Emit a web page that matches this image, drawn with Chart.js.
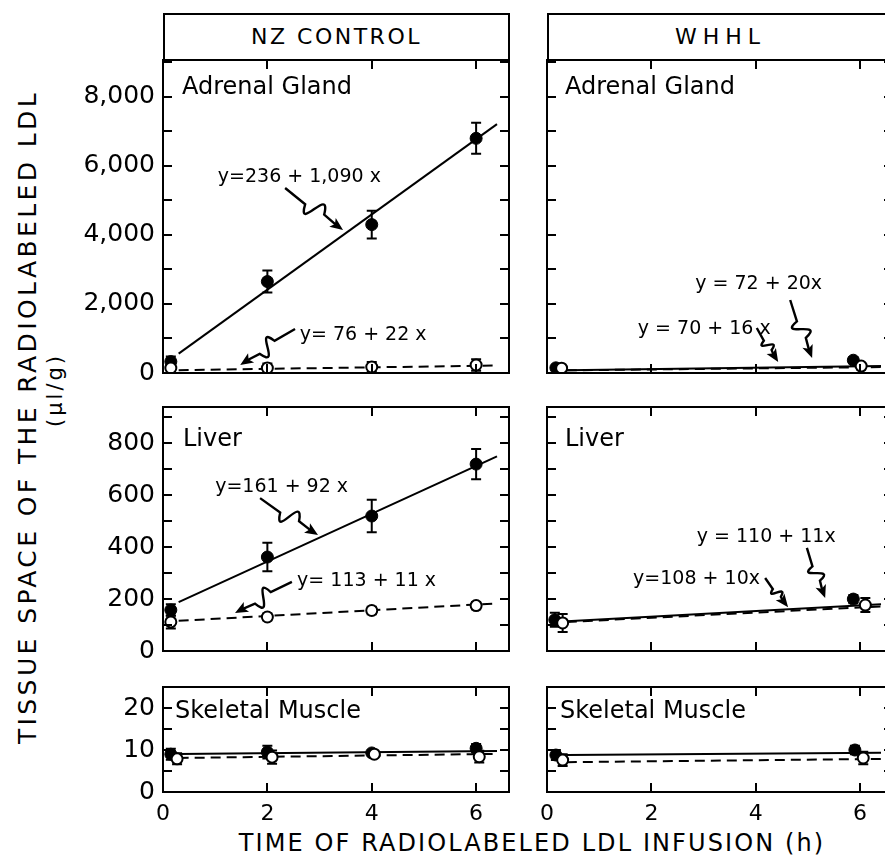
<!DOCTYPE html>
<html><head><meta charset="utf-8">
<script src="https://cdn.jsdelivr.net/npm/chart.js@4.4.1/dist/chart.umd.min.js"></script>
<style>
html,body{margin:0;padding:0;background:#fff;}
body{width:885px;height:856px;overflow:hidden;position:relative;font-family:"DejaVu Sans",sans-serif;color:#000;}
canvas{position:absolute;}
.hdr{position:absolute;box-sizing:border-box;border:2px solid #000;height:48px;top:13px;line-height:44px;text-align:center;font-size:22px;}
.ytitle{position:absolute;width:760px;height:32px;line-height:32px;text-align:center;transform:rotate(-90deg);white-space:nowrap;}
</style>
</head>
<body>
<div class="hdr" style="left:163px;width:347px;letter-spacing:2.5px;">NZ CONTROL</div>
<div class="hdr" style="left:547px;width:347px;letter-spacing:6px;">WHHL</div>
<div class="ytitle" style="left:-352px;top:401px;font-size:25px;letter-spacing:3.4px;">TISSUE SPACE OF THE RADIOLABELED LDL</div>
<div class="ytitle" style="left:-325px;top:374px;font-size:21px;letter-spacing:3px;">(μl/g)</div>
<div style="position:absolute;left:182px;width:700px;top:828px;line-height:30px;text-align:center;font-size:24px;letter-spacing:2.1px;white-space:nowrap;">TIME OF RADIOLABELED LDL INFUSION (h)</div>

<canvas id="c1" width="520" height="361" style="left:0;top:36px"></canvas>
<canvas id="c2" width="366" height="361" style="left:537px;top:36px"></canvas>
<canvas id="c3" width="520" height="292" style="left:0;top:383px"></canvas>
<canvas id="c4" width="366" height="292" style="left:537px;top:383px"></canvas>
<canvas id="c5" width="520" height="165" style="left:0;top:663px"></canvas>
<canvas id="c6" width="374" height="165" style="left:529px;top:663px"></canvas>

<script>
// ---------- DATA ----------
const timeTicks = [0, 2, 4, 6];
const adrenalYLabels = [0, 2000, 4000, 6000, 8000];
const liverYLabels = [0, 200, 400, 600, 800];
const muscleYLabels = [0, 10, 20];
const panelNames = ['Adrenal Gland', 'Liver', 'Skeletal Muscle'];
const groupNames = ['NZ CONTROL', 'WHHL'];

// NZ CONTROL — Adrenal Gland (filled = solid line, open = dashed line)
const nzAdrenalFilledX = [0.15, 2, 4, 6];
const nzAdrenalFilledY = [330, 2650, 4300, 6800];
const nzAdrenalFilledErr = [150, 320, 400, 450];
const nzAdrenalOpenX = [0.15, 2, 4, 6];
const nzAdrenalOpenY = [145, 145, 174, 232];
const nzAdrenalOpenErr = [100, 130, 145, 170];
const nzAdrenalFit = [[236, 1090], [76, 22]];
const nzAdrenalEq = ['y=236 + 1,090 x', 'y= 76 + 22 x'];

// NZ CONTROL — Liver
const nzLiverFilledX = [0.15, 2, 4, 6];
const nzLiverFilledY = [158, 362, 520, 720];
const nzLiverFilledErr = [22, 55, 63, 58];
const nzLiverOpenX = [0.15, 2, 4, 6];
const nzLiverOpenY = [112, 131, 156, 175];
const nzLiverOpenErr = [25, 13, 14, 14];
const nzLiverFit = [[161, 92], [113, 11]];
const nzLiverEq = ['y=161 + 92 x', 'y= 113 + 11 x'];

// NZ CONTROL — Skeletal Muscle
const nzMuscleFilledX = [0.15, 2, 4, 6];
const nzMuscleFilledY = [9.0, 9.5, 9.3, 10.4];
const nzMuscleFilledErr = [1.3, 1.5, 0.6, 1.0];
const nzMuscleOpenX = [0.27, 2.09, 4.05, 6.06];
const nzMuscleOpenY = [7.9, 8.3, 9.0, 8.4];
const nzMuscleOpenErr = [1.3, 1.6, 0.6, 1.4];
const nzMuscleFit = [[9.0, 0.12], [8.05, 0.16]];

// WHHL — Adrenal Gland
const whhlAdrenalFilledX = [0.17, 5.87];
const whhlAdrenalFilledY = [150, 370];
const whhlAdrenalFilledErr = [60, 90];
const whhlAdrenalOpenX = [0.28, 6.02];
const whhlAdrenalOpenY = [140, 200];
const whhlAdrenalOpenErr = [60, 90];
const whhlAdrenalFit = [[72, 20], [70, 16]];
const whhlAdrenalEq = ['y = 72 + 20x', 'y = 70 + 16 x'];

// WHHL — Liver
const whhlLiverFilledX = [0.15, 5.87];
const whhlLiverFilledY = [120, 200];
const whhlLiverFilledErr = [27, 16];
const whhlLiverOpenX = [0.3, 6.1];
const whhlLiverOpenY = [108, 177];
const whhlLiverOpenErr = [35, 27];
const whhlLiverFit = [[110, 11], [108, 10]];
const whhlLiverEq = ['y = 110 + 11x', 'y=108 + 10x'];

// WHHL — Skeletal Muscle
const whhlMuscleFilledX = [0.17, 5.9];
const whhlMuscleFilledY = [8.8, 10.0];
const whhlMuscleFilledErr = [1.2, 1.0];
const whhlMuscleOpenX = [0.3, 6.06];
const whhlMuscleOpenY = [7.6, 8.1];
const whhlMuscleOpenErr = [1.4, 1.5];
const whhlMuscleFit = [[8.75, 0.09], [7.05, 0.13]];

// x-extent of drawn regression lines
const fitRangeNZ = [0.3, 6.4];
const fitRangeWHHL = [0.38, 6.4];

// ---------- HELPERS ----------
const FONT = 'DejaVu Sans';
const X_MAX = 6.63;
const pts = (xs, ys) => xs.map((v, i) => ({x: v, y: ys[i]}));
const fitLine = (coef, range) => range.map(v => ({x: v, y: coef[0] + coef[1] * v}));

function squiggle(ctx, x0, y0, x1, y1) {
  const dx = x1 - x0, dy = y1 - y0, L = Math.hypot(dx, dy);
  const ux = dx / L, uy = dy / L, nx = -uy, ny = ux;
  const P = (t, k) => [x0 + ux * L * t + nx * L * k, y0 + uy * L * t + ny * L * k];
  ctx.beginPath();
  ctx.moveTo(x0, y0);
  ctx.lineTo(...P(0.36, 0.02));
  ctx.bezierCurveTo(...P(0.5, 0.42), ...P(0.5, -0.42), ...P(0.66, -0.02));
  ctx.lineTo(x1 - ux * 9, y1 - uy * 9);
  ctx.stroke();
  ctx.beginPath();
  ctx.moveTo(x1, y1);
  ctx.lineTo(x1 - ux * 13 + nx * 5.5, y1 - uy * 13 + ny * 5.5);
  ctx.lineTo(x1 - ux * 10, y1 - uy * 10);
  ctx.lineTo(x1 - ux * 13 - nx * 5.5, y1 - uy * 13 - ny * 5.5);
  ctx.closePath();
  ctx.fill();
}

const panelPlugin = {
  id: 'panelDeco',
  beforeDatasetsDraw(chart, args, p) {
    const {ctx, scales: {x, y}} = chart;
    ctx.save();
    ctx.strokeStyle = '#000';
    ctx.lineWidth = 2;
    p.errors.forEach(e => {
      e.x.forEach((xv, i) => {
        const px = x.getPixelForValue(xv);
        const yt = y.getPixelForValue(e.y[i] + e.err[i]);
        const yb = y.getPixelForValue(Math.max(0, e.y[i] - e.err[i]));
        ctx.beginPath();
        ctx.moveTo(px, yt); ctx.lineTo(px, yb);
        ctx.moveTo(px - 5, yt); ctx.lineTo(px + 5, yt);
        ctx.moveTo(px - 5, yb); ctx.lineTo(px + 5, yb);
        ctx.stroke();
      });
    });
    ctx.restore();
  },
  afterDatasetsDraw(chart, args, p) {
    const {ctx, chartArea: a, scales: {x, y}} = chart;
    ctx.save();
    ctx.strokeStyle = '#000';
    ctx.fillStyle = '#000';
    ctx.lineWidth = 2;
    ctx.strokeRect(a.left, a.top, a.right - a.left, a.bottom - a.top);
    const TL = 9;
    ctx.beginPath();
    y.ticks.forEach(t => {
      if (t.value <= y.min || t.value >= y.max) return;
      const py = Math.round(y.getPixelForValue(t.value));
      ctx.moveTo(a.left, py); ctx.lineTo(a.left + TL, py);
      ctx.moveTo(a.right, py); ctx.lineTo(a.right - TL, py);
    });
    x.ticks.forEach(t => {
      if (t.value <= x.min) return;
      const px = Math.round(x.getPixelForValue(t.value));
      ctx.moveTo(px, a.top); ctx.lineTo(px, a.top + TL);
      ctx.moveTo(px, a.bottom); ctx.lineTo(px, a.bottom - TL);
    });
    ctx.stroke();
    // panel name
    ctx.font = '24px "' + FONT + '"';
    ctx.textAlign = 'left';
    ctx.textBaseline = 'middle';
    ctx.fillText(p.name, a.left + p.nameDx, a.top + p.nameDy);
    // equations with squiggly arrows
    ctx.font = '19px "' + FONT + '"';
    p.notes.forEach(n => {
      ctx.fillText(n.text, x.getPixelForValue(n.at[0]), y.getPixelForValue(n.at[1]));
      ctx.lineWidth = 2.4;
      squiggle(ctx, x.getPixelForValue(n.from[0]), y.getPixelForValue(n.from[1]),
                    x.getPixelForValue(n.to[0]), y.getPixelForValue(n.to[1]));
    });
    ctx.restore();
  }
};

function makePanel(id, cfg) {
  const datasets = [
    {data: fitLine(cfg.fit[0], cfg.range), showLine: true, pointRadius: 0, borderColor: '#000', borderWidth: 2, order: 3},
    {data: fitLine(cfg.fit[1], cfg.range), showLine: true, pointRadius: 0, borderColor: '#000', borderWidth: 2, borderDash: [10, 6], order: 3},
    {data: pts(cfg.fx, cfg.fy), showLine: false, pointRadius: 6, pointBackgroundColor: '#000', pointBorderColor: '#000', pointBorderWidth: 1, order: 2},
    {data: pts(cfg.ox, cfg.oy), showLine: false, pointRadius: 5.5, pointBackgroundColor: '#fff', pointBorderColor: '#000', pointBorderWidth: 2, order: 1}
  ];
  return new Chart(document.getElementById(id), {
    type: 'scatter',
    data: {datasets},
    options: {
      responsive: false, animation: false, events: [],
      layout: {padding: cfg.padding},
      plugins: {
        legend: {display: false}, tooltip: {enabled: false},
        panelDeco: {
          name: cfg.name, nameDx: cfg.nameDx, nameDy: cfg.nameDy, notes: cfg.notes,
          errors: [{x: cfg.fx, y: cfg.fy, err: cfg.fe}, {x: cfg.ox, y: cfg.oy, err: cfg.oe}]
        }
      },
      scales: {
        x: {
          type: 'linear', min: 0, max: X_MAX,
          border: {display: false}, grid: {display: false, drawTicks: false},
          afterBuildTicks: s => { s.ticks = timeTicks.map(v => ({value: v})); },
          ticks: {display: cfg.showX, autoSkip: false, maxRotation: 0, padding: 9, color: '#000',
                  font: {family: FONT, size: 22}, callback: v => String(v)},
          afterFit: s => { s.height = cfg.showX ? 34 : 0; }
        },
        y: {
          type: 'linear', min: 0, max: cfg.yMax,
          border: {display: false}, grid: {display: false, drawTicks: false},
          afterBuildTicks: s => {
            const t = [];
            for (let v = 0; v <= cfg.yMax + 1e-9; v += cfg.yStep) t.push({value: v});
            s.ticks = t;
          },
          ticks: {display: cfg.showY, autoSkip: false, padding: 8, color: '#000',
                  font: {family: FONT, size: 25},
                  callback: v => cfg.yLabels.includes(v) ? v.toLocaleString('en-US') : ''},
          afterFit: s => { s.width = cfg.showY ? 163 : 0; }
        }
      }
    },
    plugins: [panelPlugin]
  });
}

const LEFT_PAD = {left: 0, right: 11, top: 24, bottom: 24};
const RIGHT_PAD = {left: 10, right: 10, top: 24, bottom: 24};
const LEFT_PAD_B = {left: 0, right: 11, top: 24, bottom: 2};
const RIGHT_PAD_B = {left: 18, right: 10, top: 24, bottom: 2};

makePanel('c1', {
  padding: LEFT_PAD, showX: false, showY: true, yMax: 9070, yStep: 1000, yLabels: adrenalYLabels,
  name: panelNames[0], nameDx: 19, nameDy: 28,
  fx: nzAdrenalFilledX, fy: nzAdrenalFilledY, fe: nzAdrenalFilledErr,
  ox: nzAdrenalOpenX, oy: nzAdrenalOpenY, oe: nzAdrenalOpenErr,
  fit: nzAdrenalFit, range: fitRangeNZ,
  notes: [
    {text: nzAdrenalEq[0], at: [1.05, 5680], from: [2.34, 5360], to: [3.45, 4145]},
    {text: nzAdrenalEq[1], at: [2.62, 1100], from: [2.53, 1275], to: [1.48, 232]}
  ]
});
makePanel('c2', {
  padding: RIGHT_PAD, showX: false, showY: false, yMax: 9070, yStep: 1000, yLabels: adrenalYLabels,
  name: panelNames[0], nameDx: 18, nameDy: 28,
  fx: whhlAdrenalFilledX, fy: whhlAdrenalFilledY, fe: whhlAdrenalFilledErr,
  ox: whhlAdrenalOpenX, oy: whhlAdrenalOpenY, oe: whhlAdrenalOpenErr,
  fit: whhlAdrenalFit, range: fitRangeWHHL,
  notes: [
    {text: whhlAdrenalEq[0], at: [2.84, 2580], from: [4.66, 2115], to: [5.08, 435]},
    {text: whhlAdrenalEq[1], at: [1.74, 1275], from: [4.02, 1304], to: [4.43, 319]}
  ]
});
makePanel('c3', {
  padding: LEFT_PAD, showX: false, showY: true, yMax: 940, yStep: 100, yLabels: liverYLabels,
  name: panelNames[1], nameDx: 20, nameDy: 33,
  fx: nzLiverFilledX, fy: nzLiverFilledY, fe: nzLiverFilledErr,
  ox: nzLiverOpenX, oy: nzLiverOpenY, oe: nzLiverOpenErr,
  fit: nzLiverFit, range: fitRangeNZ,
  notes: [
    {text: nzLiverEq[0], at: [1.0, 632], from: [1.86, 589], to: [2.97, 447]},
    {text: nzLiverEq[1], at: [2.57, 270], from: [2.47, 266], to: [1.38, 146]}
  ]
});
makePanel('c4', {
  padding: RIGHT_PAD, showX: false, showY: false, yMax: 940, yStep: 100, yLabels: liverYLabels,
  name: panelNames[1], nameDx: 18, nameDy: 33,
  fx: whhlLiverFilledX, fy: whhlLiverFilledY, fe: whhlLiverFilledErr,
  ox: whhlLiverOpenX, oy: whhlLiverOpenY, oe: whhlLiverOpenErr,
  fit: whhlLiverFit, range: fitRangeWHHL,
  notes: [
    {text: whhlLiverEq[0], at: [2.87, 439], from: [4.98, 397], to: [5.33, 204]},
    {text: whhlLiverEq[1], at: [1.65, 277], from: [4.18, 281], to: [4.62, 169]}
  ]
});
makePanel('c5', {
  padding: LEFT_PAD_B, showX: true, showY: true, yMax: 25, yStep: 5, yLabels: muscleYLabels,
  name: panelNames[2], nameDx: 12, nameDy: 25,
  fx: nzMuscleFilledX, fy: nzMuscleFilledY, fe: nzMuscleFilledErr,
  ox: nzMuscleOpenX, oy: nzMuscleOpenY, oe: nzMuscleOpenErr,
  fit: nzMuscleFit, range: fitRangeNZ, notes: []
});
makePanel('c6', {
  padding: RIGHT_PAD_B, showX: true, showY: false, yMax: 25, yStep: 5, yLabels: muscleYLabels,
  name: panelNames[2], nameDx: 13, nameDy: 25,
  fx: whhlMuscleFilledX, fy: whhlMuscleFilledY, fe: whhlMuscleFilledErr,
  ox: whhlMuscleOpenX, oy: whhlMuscleOpenY, oe: whhlMuscleOpenErr,
  fit: whhlMuscleFit, range: fitRangeWHHL, notes: []
});
</script>
</body></html>
